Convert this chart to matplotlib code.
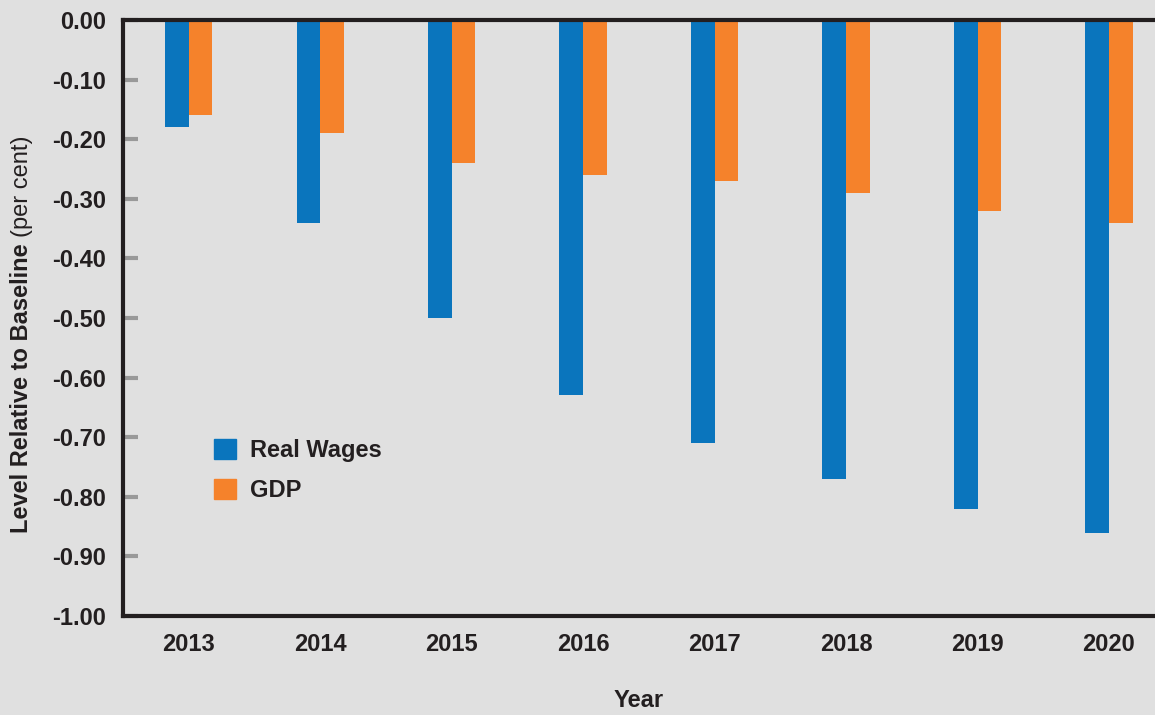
import matplotlib
matplotlib.use("Agg")
import matplotlib.pyplot as plt
from matplotlib.patches import Patch
import numpy as np

years = ["2013", "2014", "2015", "2016", "2017", "2018", "2019", "2020"]
real_wages = [-0.18, -0.34, -0.50, -0.63, -0.71, -0.77, -0.82, -0.86]
gdp = [-0.16, -0.19, -0.24, -0.26, -0.27, -0.29, -0.32, -0.34]
yticks = [0.0, -0.1, -0.2, -0.3, -0.4, -0.5, -0.6, -0.7, -0.8, -0.9, -1.0]

bg = "#e0e0e0"
blue = "#0a75bd"
orange = "#f5822b"
dark = "#231f20"
fs = 17

plt.rcParams["font.family"] = ["Liberation Sans", "DejaVu Sans"]

fig = plt.figure(figsize=(11.55, 7.15), dpi=100, facecolor=bg)
ax = fig.add_axes([0.1065, 0.1385, 0.8935, 0.8335], facecolor=bg)

x = np.arange(len(years))
w = 0.18
ax.bar(x - w / 2, real_wages, w, color=blue, label="Real Wages")
ax.bar(x + w / 2, gdp, w, color=orange, label="GDP")

ax.set_xlim(-0.5, 7.35)
ax.set_ylim(-1.0, 0.0)
ax.set_yticks(yticks)
ax.set_yticklabels([f"{v:.2f}" for v in yticks])
ax.set_xticks(x)
ax.set_xticklabels(years)

for s in ["top", "bottom", "left"]:
    ax.spines[s].set_color(dark)
    ax.spines[s].set_linewidth(3)
ax.spines["right"].set_visible(False)

ax.tick_params(axis="y", direction="in", length=11, width=3, color="#999999",
               labelsize=fs, labelcolor=dark, pad=12)
ax.tick_params(axis="x", length=0, labelsize=fs, labelcolor=dark, pad=12)
for lab in ax.get_xticklabels() + ax.get_yticklabels():
    lab.set_fontweight("bold")

ax.set_xlabel("Year", fontsize=fs, fontweight="bold", color=dark, labelpad=24)

leg = ax.legend(handles=[Patch(color=blue, label="Real Wages"), Patch(color=orange, label="GDP")],
                loc="upper left", bbox_to_anchor=(0.088, 0.297), frameon=False,
                borderpad=0, borderaxespad=0,
                prop={"size": fs, "weight": "bold"}, handlelength=0.95, handleheight=0.95,
                handletextpad=0.6, labelspacing=0.7)
for t in leg.get_texts():
    t.set_color(dark)

# y label in two parts: bold then regular
t1 = fig.text(22 / 1155, 1 - 533 / 715, "Level Relative to Baseline", rotation=90,
              fontsize=fs, fontweight="bold", color=dark, ha="center", va="bottom")
fig.canvas.draw()
bb = t1.get_window_extent()
fig.text(22 / 1155, (bb.y1 + 6) / 715, "(per cent)", rotation=90,
         fontsize=fs, color=dark, ha="center", va="bottom")

fig.savefig("out.png", dpi=100, facecolor=bg)
